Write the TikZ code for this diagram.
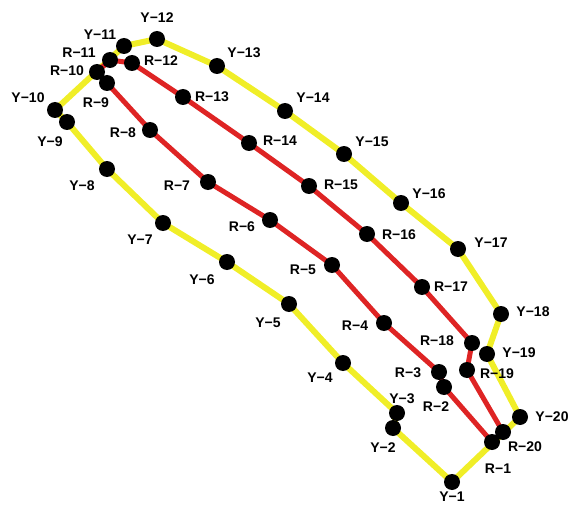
\documentclass[tikz,border=0pt]{standalone}
\usepackage{fontspec}
\setmainfont{Liberation Sans}
\usetikzlibrary{backgrounds}
\definecolor{ylw}{RGB}{240,238,40}
\definecolor{rd}{RGB}{222,36,36}
\begin{document}
\begin{tikzpicture}[x=1pt,y=-1pt,
  dot/.style={circle,fill=black,inner sep=0pt,minimum size=16pt},
  lbl/.style={font=\fontsize{14}{14}\selectfont\bfseries,inner sep=0pt},
  yline/.style={ylw,line width=6pt,line join=round},
  rline/.style={rd,line width=5pt,line join=round}]
\useasboundingbox (0,0) rectangle (571,511);
% yellow dots
\foreach \i/\x/\y in {1/452/482,2/393/428,3/397/413,4/343/363,5/289/304,6/227/262,7/163/223,8/107/169,9/67/122,10/55/110,11/124/46,12/157/39,13/217/66,14/285/111,15/344/154,16/401/203,17/458/249,18/501/314,19/487/354,20/520/417}
  \node[dot] (y\i) at (\x,\y) {};
% red dots
\foreach \i/\x/\y in {1/492/442,2/444/387,3/439/372,4/384/323,5/332/265,6/270/220,7/208/182,8/150/130,9/107/83,10/97/72,11/110/60,12/132/63,13/183/97,14/249/143,15/309/186,16/367/234,17/422/287,18/472/343,19/467/370,20/503/432}
  \node[dot] (r\i) at (\x,\y) {};
\begin{scope}[on background layer]
\draw[yline] (y1.center) \foreach \i in {2,...,20}{ -- (y\i.center)} -- cycle;
\draw[rline] (r1.center) \foreach \i in {2,...,20}{ -- (r\i.center)} -- cycle;
\end{scope}
% yellow labels
\foreach \i/\x/\y in {1/452/497,2/383/448,3/402/399,4/320/378,5/268/323,6/202/280,7/140/240,8/82/186,9/50/142,10/28/98,11/100/35,12/157/18,13/244/53,14/313/98,15/372/142,16/429/194,17/491/243,18/533/312,19/519/353,20/552/417}
  \node[lbl] (ly\i) at (\x,\y) {Y−\i};
% red labels
\foreach \i/\x/\y in {1/498/469,2/436/407,3/408/373,4/355/326,5/303/270,6/242/227,7/177/186,8/123/133,9/96/103,10/67/71,11/79/53,12/161/61,13/212/97,14/280/141,15/341/185,16/399/235,17/451/287,18/437/341,19/497/374,20/525/447}
  \node[lbl] (lr\i) at (\x,\y) {R−\i};
\end{tikzpicture}
\end{document}
